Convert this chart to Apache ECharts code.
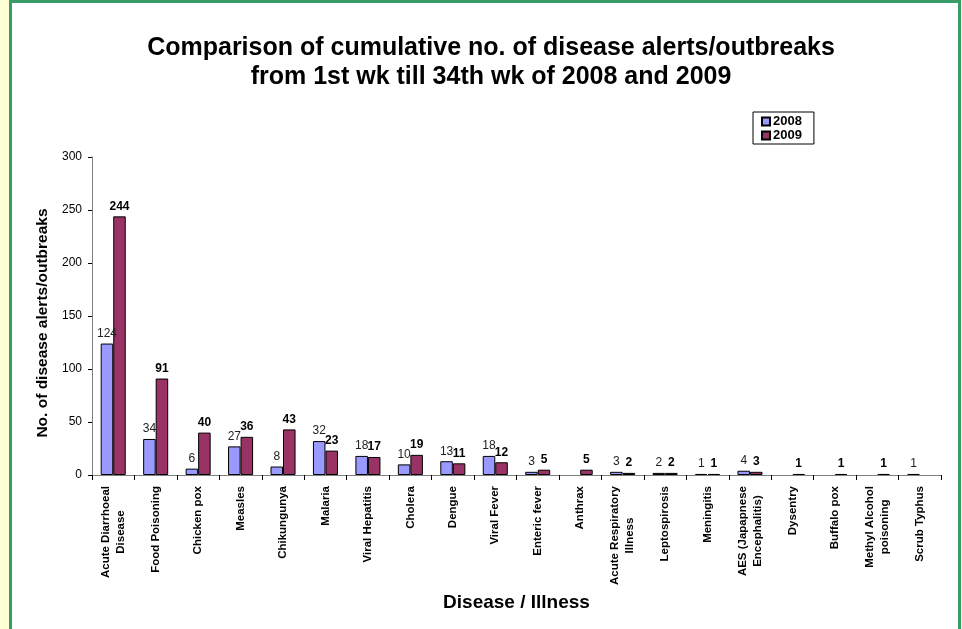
<!DOCTYPE html>
<html>
<head>
<meta charset="utf-8">
<script src="https://cdn.jsdelivr.net/npm/echarts@6/dist/echarts.min.js"></script>
<style>
  html, body { margin: 0; padding: 0; background: #ffffd6; overflow: hidden; }
  #frame { position: absolute; left: 9px; top: 0; width: 946px; height: 700px;
           border-left: 3px solid #389b68; border-right: 3px solid #389b68; border-top: 3px solid #389b68;
           background: #ffffff; }
  #chart { position: absolute; left: 0; top: 0; width: 962px; height: 629px; }
</style>
</head>
<body>
<div id="frame"></div>
<div id="chart"></div>
<script>
const categories = [
  'Acute Diarrhoeal\nDisease', 'Food Poisoning', 'Chicken pox', 'Measles', 'Chikungunya',
  'Malaria', 'Viral Hepatitis', 'Cholera', 'Dengue', 'Viral Fever', 'Enteric fever',
  'Anthrax', 'Acute Respiratory\nIllness', 'Leptospirosis', 'Meningitis',
  'AES (Japapnese\nEncephalitis)', 'Dysentry', 'Buffalo pox', 'Methyl Alcohol\npoisoning', 'Scrub Typhus'
];
const values2008 = [124, 34, 6, 27, 8, 32, 18, 10, 13, 18, 3, null, 3, 2, 1, 4, null, null, null, 1];
const values2009 = [244, 91, 40, 36, 43, 23, 17, 19, 11, 12, 5, 5, 2, 2, 1, 3, 1, 1, 1, null];
const yTicks = { min: 0, max: 300, interval: 50 };

const chart = echarts.init(document.getElementById('chart'), null, { renderer: 'canvas' });
const FONT = 'Arial, "Liberation Sans", sans-serif';

chart.setOption({
  backgroundColor: 'transparent',
  animation: false,
  title: {
    text: 'Comparison of cumulative no. of disease alerts/outbreaks\nfrom 1st wk till 34th wk of 2008 and 2009',
    left: 486,
    textAlign: 'center',
    top: 29,
    textStyle: { fontFamily: FONT, fontSize: 25, fontWeight: 'bold', color: '#000', lineHeight: 29 }
  },
  legend: {
    orient: 'vertical',
    left: 753,
    top: 112,
    padding: [3, 12, 2, 8],
    itemWidth: 8,
    itemHeight: 8,
    itemGap: 1,
    borderColor: '#000',
    borderWidth: 1,
    backgroundColor: '#fff',
    icon: 'rect',
    textStyle: { fontFamily: FONT, fontSize: 13, fontWeight: 'bold', color: '#000', lineHeight: 12, padding: [0, 0, 0, -2] },
    data: ['2008', '2009']
  },
  grid: { left: 92, right: 21, top: 157, bottom: 154, containLabel: false },
  xAxis: {
    type: 'category',
    data: categories,
    name: 'Disease / Illness',
    nameLocation: 'middle',
    nameGap: 113,
    nameTextStyle: { fontFamily: FONT, fontSize: 19, fontWeight: 'bold', color: '#000' },
    axisLine: { lineStyle: { color: '#808080', width: 1 } },
    axisTick: { show: true, length: 5, lineStyle: { color: '#000' } },
    axisLabel: {
      interval: 0,
      rotate: 90,
      margin: 11,
      formatter: function (v) {
        return v.split('\n').map(function (s) { return '{c|' + s + '}'; }).join('\n');
      },
      rich: {
        c: { align: 'center', fontFamily: FONT, fontSize: 11.5, fontWeight: 'bold', color: '#000', lineHeight: 15 }
      }
    }
  },
  yAxis: {
    type: 'value',
    min: yTicks.min,
    max: yTicks.max,
    interval: yTicks.interval,
    name: 'No. of disease alerts/outbreaks',
    nameLocation: 'middle',
    nameGap: 40,
    nameTextStyle: { fontFamily: FONT, fontSize: 15.5, fontWeight: 'bold', color: '#000', padding: [0, 14, 0, 0] },
    axisLine: { show: true, lineStyle: { color: '#808080', width: 1 } },
    axisTick: { show: true, length: 4, lineStyle: { color: '#000' } },
    axisLabel: { margin: 10, fontFamily: FONT, fontSize: 12, color: '#000' },
    splitLine: { show: false }
  },
  series: [
    {
      name: '2008',
      type: 'bar',
      data: values2008,
      barGap: '0%',
      barCategoryGap: '41%',
      itemStyle: { color: '#9999ff', borderColor: '#000', borderWidth: 1 },
      label: { show: true, position: 'top', distance: 4, fontFamily: FONT, fontSize: 12, color: '#222' }
    },
    {
      name: '2009',
      type: 'bar',
      data: values2009,
      barGap: '0%',
      barCategoryGap: '41%',
      itemStyle: { color: '#993366', borderColor: '#000', borderWidth: 1 },
      label: { show: true, position: 'top', distance: 4, fontFamily: FONT, fontSize: 12, fontWeight: 'bold', color: '#000' }
    }
  ]
});
</script>
</body>
</html>
